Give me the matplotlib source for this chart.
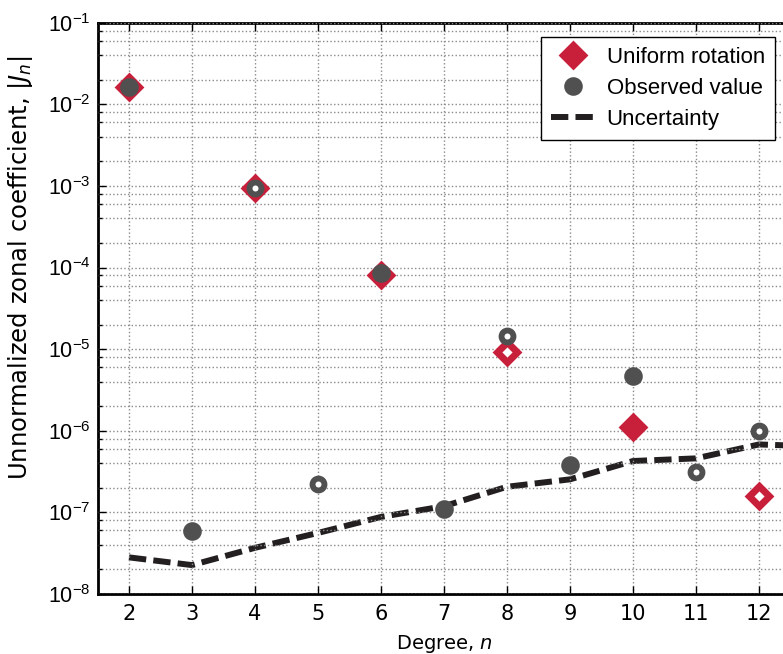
import numpy as np
import matplotlib
matplotlib.use('Agg')
import matplotlib.pyplot as plt
from matplotlib.ticker import LogLocator, NullFormatter, FixedLocator

plt.rcParams['axes.unicode_minus'] = False
plt.rcParams['mathtext.default'] = 'regular'

# zonal harmonic degree
degree = np.arange(2, 13)
# signed values, negative ones are drawn hollow
observed = np.array([1.629e-2, 5.9e-8, -9.35e-4, -2.24e-7, 8.63e-5, 1.09e-7,
                     -1.46e-5, 3.76e-7, 4.67e-6, -3.15e-7, -1.00e-6])
uniform = np.array([1.63e-2, np.nan, -9.4e-4, np.nan, 8.1e-5, np.nan,
                    -9.2e-6, np.nan, 1.11e-6, np.nan, -1.58e-7])
unc_degree = np.arange(2, 14)
uncertainty = np.array([2.81e-8, 2.26e-8, 3.68e-8, 5.6e-8, 8.8e-8, 1.19e-7,
                        2.06e-7, 2.54e-7, 4.26e-7, 4.59e-7, 6.8e-7, 6.4e-7])
decades = [1e-8, 1e-7, 1e-6, 1e-5, 1e-4, 1e-3, 1e-2, 1e-1]

red = '#c8203a'
gray = '#505050'

fig = plt.figure(figsize=(7.83, 6.54), dpi=100)
ax = fig.add_axes([97.5/783, 1-594/654, 693/783, (594-22.7)/654])

# uniform rotation diamonds
pos = uniform > 0
neg = uniform < 0
ax.plot(degree[pos], uniform[pos], 'D', ms=9.7, mew=5, mfc=red, mec=red,
        label='Uniform rotation', zorder=3)
ax.plot(degree[neg], -uniform[neg], 'D', ms=9.7, mew=5, mfc='white', mec=red,
        zorder=3)

# observed circles
pos = observed > 0
neg = observed < 0
ax.plot(degree[pos], observed[pos], 'o', ms=8.9, mew=4.5, mfc=gray, mec=gray,
        label='Observed value', zorder=4)
ax.plot(degree[neg], -observed[neg], 'o', ms=8.6, mew=4.2, mfc='white', mec=gray,
        zorder=4)

ax.plot(unc_degree, uncertainty, color='#231f20', lw=4.3, dashes=(2.9, 1.2),
        label='Uncertainty', zorder=2)

ax.set_yscale('log')
ax.set_ylim(1e-8, 1e-1)
ax.set_xlim(1.5, 12.5)
ax.xaxis.set_major_locator(FixedLocator(list(range(2, 13))))
ax.yaxis.set_major_locator(FixedLocator(decades))
ax.yaxis.set_minor_locator(LogLocator(base=10, subs=[2, 4, 6, 8], numticks=20))
ax.yaxis.set_minor_formatter(NullFormatter())

ax.grid(True, which='major', axis='both', linestyle=':', color='#8a8a8a', lw=1, zorder=5)
ax.grid(True, which='minor', axis='y', linestyle=':', color='#8a8a8a', lw=1, zorder=5)
ax.set_axisbelow(False)

ax.tick_params(which='both', direction='in', top=True, right=True)
ax.tick_params(which='major', length=6, width=1, pad=7)
ax.tick_params(which='minor', length=3, width=1)
ax.tick_params(axis='x', labelsize=15)
ax.tick_params(axis='y', labelsize=15.5, pad=5)
for lab in ax.get_yticklabels():
    lab.set_fontfamily('Liberation Sans')
for sp in ax.spines.values():
    sp.set_linewidth(2)

ax.set_xlabel('Degree, $\\mathit{n}$', fontsize=14, labelpad=7)
fig.text(21/783, 1 - 268/654,
         'Unnormalized zonal coefficient, $|\\mathit{J}_\\mathit{n}|$',
         rotation=90, ha='center', va='center', fontsize=17.5)

leg = ax.legend(loc='upper right', bbox_to_anchor=(775/783, 1-37/654),
                bbox_transform=fig.transFigure, borderaxespad=0, numpoints=1,
                fancybox=False, framealpha=1, edgecolor='black',
                prop={'family': 'Liberation Sans', 'size': 16},
                handlelength=2.0, handletextpad=0.5, labelspacing=0.45,
                borderpad=0.45)
leg.get_frame().set_linewidth(1)
leg.set_zorder(10)

fig.savefig('out.png', dpi=100)
